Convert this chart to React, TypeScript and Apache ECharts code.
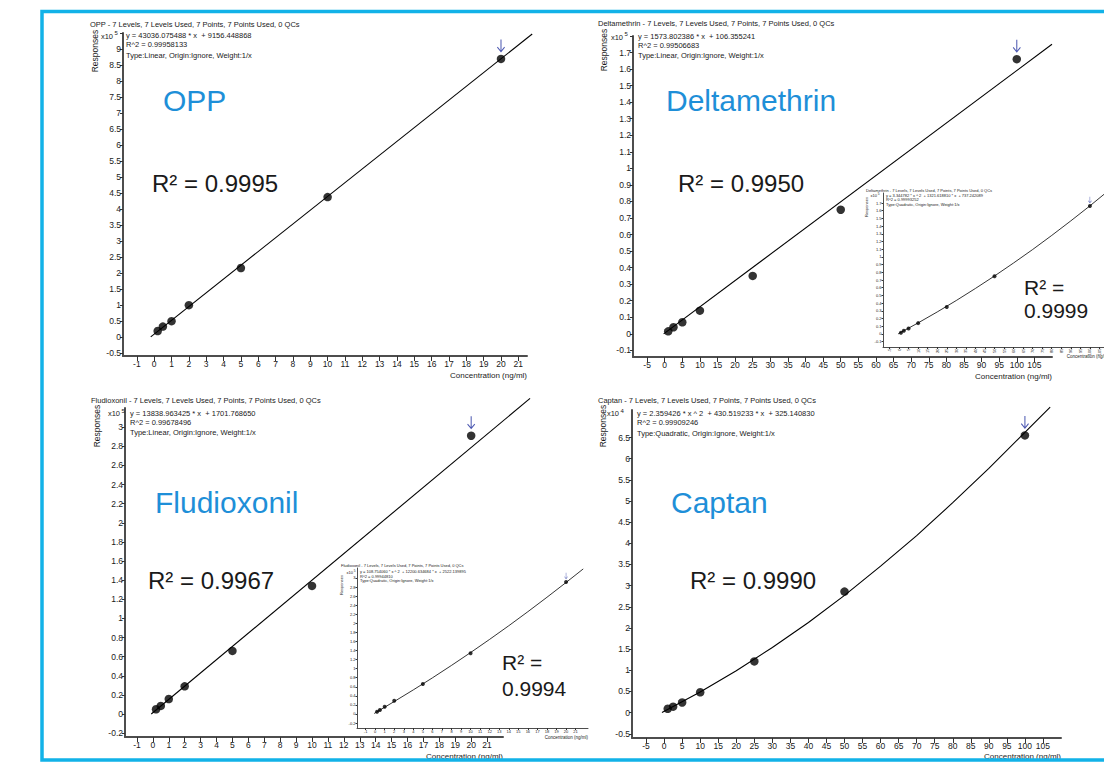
import React, { useEffect, useRef } from "react";
import * as echarts from "echarts";

// ---------------- DATA ----------------
// OPP (responses x10^5)
const OPP_CONC = [0.2, 0.5, 1, 2, 5, 10, 20];
const OPP_RESP = [0.18, 0.32, 0.49, 0.99, 2.15, 4.37, 8.69];
const OPP_FIT_X = [-0.2, 21.8];
const OPP_FIT_Y = [0.0, 9.47];

// Deltamethrin (responses x10^5)
const DELTA_CONC = [1, 2.5, 5, 10, 25, 50, 100];
const DELTA_RESP = [0.015, 0.04, 0.07, 0.14, 0.35, 0.75, 1.66];
const DELTA_FIT_X = [-0.3, 110];
const DELTA_FIT_Y = [0.0, 1.75];
const DELTA_QFIT_X = [-0.5, 10, 20, 30, 40, 50, 60, 70, 80, 90, 100, 110];
const DELTA_QFIT_Y = [0.0, 0.143, 0.285, 0.434, 0.59, 0.752, 0.921, 1.096, 1.279, 1.468, 1.663, 1.866];

// Fludioxonil (responses x10^5)
const FLU_CONC = [0.2, 0.5, 1, 2, 5, 10, 20];
const FLU_RESP = [0.05, 0.085, 0.157, 0.29, 0.66, 1.34, 2.91];
const FLU_FIT_X = [-0.1, 23.7];
const FLU_FIT_Y = [0.0, 3.3];
const FLU_QFIT_X = [-0.1, 2, 4, 6, 8, 10, 12, 14, 16, 18, 20, 21.8];
const FLU_QFIT_Y = [0.01, 0.274, 0.531, 0.796, 1.071, 1.354, 1.646, 1.946, 2.256, 2.574, 2.9, 3.2];

// Captan (responses x10^4)
const CAP_CONC = [1, 2.5, 5, 10, 25, 50, 100];
const CAP_RESP = [0.09, 0.14, 0.24, 0.48, 1.21, 2.86, 6.55];
const CAP_QFIT_X = [-0.6, 10, 20, 30, 40, 50, 60, 70, 80, 90, 100, 107];
const CAP_QFIT_Y = [0.0, 0.487, 0.99, 1.54, 2.13, 2.77, 3.46, 4.18, 4.96, 5.77, 6.62, 7.22];

// Tick values
const X21_TICKS = [-1, 0, 1, 2, 3, 4, 5, 6, 7, 8, 9, 10, 11, 12, 13, 14, 15, 16, 17, 18, 19, 20, 21];
const X105_TICKS = [-5, 0, 5, 10, 15, 20, 25, 30, 35, 40, 45, 50, 55, 60, 65, 70, 75, 80, 85, 90, 95, 100, 105];
const OPP_Y_TICKS = [-0.5, 0, 0.5, 1, 1.5, 2, 2.5, 3, 3.5, 4, 4.5, 5, 5.5, 6, 6.5, 7, 7.5, 8, 8.5, 9];
const OPP_Y_MARKS = [-0.5, 0, 0.5, 1, 1.5, 2, 2.5, 3, 3.5, 4, 4.5, 5, 5.5, 6, 6.5, 7, 7.5, 8, 8.5, 9, 9.5];
const DELTA_Y_TICKS = [-0.1, 0, 0.1, 0.2, 0.3, 0.4, 0.5, 0.6, 0.7, 0.8, 0.9, 1, 1.1, 1.2, 1.3, 1.4, 1.5, 1.6, 1.7];
const DELTA_Y_MARKS = [-0.1, 0, 0.1, 0.2, 0.3, 0.4, 0.5, 0.6, 0.7, 0.8, 0.9, 1, 1.1, 1.2, 1.3, 1.4, 1.5, 1.6, 1.7, 1.8];
const FLU_Y_TICKS = [-0.2, 0, 0.2, 0.4, 0.6, 0.8, 1, 1.2, 1.4, 1.6, 1.8, 2, 2.2, 2.4, 2.6, 2.8, 3];
const CAP_Y_TICKS = [-0.5, 0, 0.5, 1, 1.5, 2, 2.5, 3, 3.5, 4, 4.5, 5, 5.5, 6, 6.5];

// ---------------- STYLE / LAYOUT ----------------
const FONT = '"Liberation Sans", Arial, Helvetica, sans-serif';
const BLUE_TITLE = "#1E8FD8";
const BORDER = "#12B2E8";
const ARROW_COLOR = "#1F2E9E";
const ARROW = "path://M4.4,0 L5.6,0 L5.6,12.5 L8.8,8.6 L9.7,9.4 L5,15 L0.3,9.4 L1.2,8.6 L4.4,12.5 Z";

// The drawing surface is wider than the 1104px window so the right-hand inset can run past the edge, as in the reference.
const SURFACE_W = 1240;
const SURFACE_H = 762;

// panel layouts: grid box + axis ranges
const PANELS = [
  { g: { left: 123, top: 33, width: 404, height: 323 }, x: [-1.8, 21.5], y: [-0.6, 9.5] },
  { g: { left: 633, top: 36, width: 419, height: 321 }, x: [-9, 110], y: [-0.14, 1.8] },
  { g: { left: 125, top: 408, width: 378, height: 329 }, x: [-1.75, 22], y: [-0.24, 3.2] },
  { g: { left: 632, top: 410, width: 429, height: 328 }, x: [-8.9, 110], y: [-0.6, 7.15] },
  { g: { left: 883, top: 193, width: 226, height: 154 }, x: [-8.4, 110], y: [-0.17, 1.83] },
  { g: { left: 357, top: 568, width: 231, height: 160 }, x: [-1.9, 22.3], y: [-0.31, 3.22] },
];

// enlarged invisible frame with identical scale, used by the fit curves so they may run past the axes
const EXT_R = 40;
const EXT_T = 30;
function extended(p: any) {
  const ux = (p.x[1] - p.x[0]) / p.g.width;
  const uy = (p.y[1] - p.y[0]) / p.g.height;
  return {
    g: { left: p.g.left, top: p.g.top - EXT_T, width: p.g.width + EXT_R, height: p.g.height + EXT_T },
    x: [p.x[0], p.x[1] + EXT_R * ux],
    y: [p.y[0], p.y[1] + EXT_T * uy],
  };
}
const EXT = PANELS.map(extended);

const zip = (xs: number[], ys: number[]) => xs.map((x, i) => [x, ys[i]]);
const last = (xs: number[], ys: number[]) => [[xs[xs.length - 1], ys[ys.length - 1]]];

function txt(text: string, x: number, y: number, size: number, o: any = {}) {
  return {
    type: "text",
    x,
    y,
    rotation: o.rotation || 0,
    z: 100,
    silent: true,
    style: {
      text,
      fontSize: size,
      fontFamily: FONT,
      fill: o.color || "#1a1a1a",
      align: o.align || "left",
      verticalAlign: "middle",
      textAlign: o.align || "left",
      textVerticalAlign: "middle",
    },
  };
}

function xAx(gi: number, range: number[], ticks: number[], o: any) {
  return {
    type: "value",
    gridIndex: gi,
    min: range[0],
    max: range[1],
    axisLine: { show: true, onZero: false, lineStyle: { color: "#4d4d4d", width: o.small ? 1 : 2 } },
    axisTick: { show: true, inside: false, length: o.small ? 2 : 5, customValues: ticks, lineStyle: { color: "#333", width: 1 } },
    axisLabel: { show: true, customValues: ticks, fontSize: o.fs, margin: o.margin, color: "#1a1a1a", fontFamily: FONT, rotate: o.rotate || 0 },
    splitLine: { show: false },
  };
}

function yAx(gi: number, range: number[], labels: number[], marks: number[], o: any) {
  return {
    type: "value",
    gridIndex: gi,
    min: range[0],
    max: range[1],
    axisLine: { show: true, onZero: false, lineStyle: { color: "#4d4d4d", width: o.small ? 1 : 2 } },
    axisTick: { show: true, inside: false, length: o.small ? 1.5 : 3, customValues: marks, lineStyle: { color: "#333", width: 1 } },
    axisLabel: { show: true, customValues: labels, fontSize: o.fs, margin: o.margin, color: "#1a1a1a", fontFamily: FONT },
    splitLine: { show: false },
  };
}

function hiddenAx(gi: number, range: number[]) {
  return {
    type: "value",
    gridIndex: gi,
    min: range[0],
    max: range[1],
    show: false,
    axisLine: { show: false, onZero: false },
    axisTick: { show: false },
    axisLabel: { show: false },
    splitLine: { show: false },
  };
}

function panelSeries(i: number, fitX: number[], fitY: number[], conc: number[], resp: number[], small: boolean) {
  return [
    {
      type: "line",
      xAxisIndex: i + 6,
      yAxisIndex: i + 6,
      data: zip(fitX, fitY),
      symbol: "none",
      showSymbol: false,
      smooth: false,
      lineStyle: { color: "#000", width: small ? 0.8 : 1.1 },
      silent: true,
      z: 1,
    },
    {
      type: "scatter",
      xAxisIndex: i,
      yAxisIndex: i,
      data: zip(conc, resp),
      symbol: "circle",
      symbolSize: small ? 4 : 8.5,
      itemStyle: { color: "#000" },
      silent: true,
      z: 3,
    },
    {
      type: "scatter",
      xAxisIndex: i,
      yAxisIndex: i,
      data: last(conc, resp),
      symbol: ARROW,
      symbolSize: small ? [3.5, 6.5] : [8, 13],
      symbolOffset: small ? [0, -6] : [0, -13],
      itemStyle: { color: ARROW_COLOR },
      silent: true,
      z: 3,
    },
  ];
}

const MAIN = { fs: 8.5, margin: 3 };
const MAINY = { fs: 8.5, margin: 2 };
const SMALL = { fs: 4, margin: 1.5, small: true };

const option: any = {
  animation: false,
  backgroundColor: "#fff",
  grid: [...PANELS.map((p) => p.g), ...EXT.map((p) => p.g)],
  xAxis: [
    xAx(0, PANELS[0].x, X21_TICKS, MAIN),
    xAx(1, PANELS[1].x, X105_TICKS, MAIN),
    xAx(2, PANELS[2].x, X21_TICKS, MAIN),
    xAx(3, PANELS[3].x, X105_TICKS, MAIN),
    xAx(4, PANELS[4].x, X105_TICKS, { ...SMALL, rotate: 90 }),
    xAx(5, PANELS[5].x, X21_TICKS, SMALL),
    ...EXT.map((p, k) => hiddenAx(6 + k, p.x)),
  ],
  yAxis: [
    yAx(0, PANELS[0].y, OPP_Y_TICKS, OPP_Y_MARKS, MAINY),
    yAx(1, PANELS[1].y, DELTA_Y_TICKS, DELTA_Y_MARKS, MAINY),
    yAx(2, PANELS[2].y, FLU_Y_TICKS, FLU_Y_TICKS, MAINY),
    yAx(3, PANELS[3].y, CAP_Y_TICKS, CAP_Y_TICKS, MAINY),
    yAx(4, PANELS[4].y, DELTA_Y_TICKS, DELTA_Y_TICKS, SMALL),
    yAx(5, PANELS[5].y, FLU_Y_TICKS, FLU_Y_TICKS, SMALL),
    ...EXT.map((p, k) => hiddenAx(6 + k, p.y)),
  ],
  series: [
    ...panelSeries(0, OPP_FIT_X, OPP_FIT_Y, OPP_CONC, OPP_RESP, false),
    ...panelSeries(1, DELTA_FIT_X, DELTA_FIT_Y, DELTA_CONC, DELTA_RESP, false),
    ...panelSeries(2, FLU_FIT_X, FLU_FIT_Y, FLU_CONC, FLU_RESP, false),
    ...panelSeries(3, CAP_QFIT_X, CAP_QFIT_Y, CAP_CONC, CAP_RESP, false),
    ...panelSeries(4, DELTA_QFIT_X, DELTA_QFIT_Y, DELTA_CONC, DELTA_RESP, true),
    ...panelSeries(5, FLU_QFIT_X, FLU_QFIT_Y, FLU_CONC, FLU_RESP, true),
  ],
  graphic: [
    {
      type: "rect",
      silent: true,
      z: 200,
      shape: { x: 42, y: 11.5, width: 1100, height: 748.5 },
      style: { fill: "none", stroke: BORDER, lineWidth: 3.5 },
    },
    // Panel 1 - OPP
    txt("OPP - 7 Levels, 7 Levels Used, 7 Points, 7 Points Used, 0 QCs", 90, 24.5, 7.5),
    txt("x10", 113, 36, 7.5, { align: "right" }),
    txt("5", 114.5, 33, 6),
    txt("y = 43036.075488 * x  + 9156.448868", 126, 35.5, 7.5),
    txt("R^2 = 0.99958133", 126, 44.5, 7.5),
    txt("Type:Linear, Origin:Ignore, Weight:1/x", 126, 55, 7.5),
    txt("Responses", 95, 51, 8.5, { rotation: Math.PI / 2, align: "center" }),
    txt("Concentration (ng/ml)", 527, 375, 8, { align: "right" }),
    txt("OPP", 163, 100, 30, { color: BLUE_TITLE }),
    txt("R² = 0.9995", 152, 183, 24),
    // Panel 2 - Deltamethrin
    txt("Deltamethrin - 7 Levels, 7 Levels Used, 7 Points, 7 Points Used, 0 QCs", 598, 23, 7.5),
    txt("x10", 623, 37, 7.5, { align: "right" }),
    txt("5", 624.5, 34, 6),
    txt("y = 1573.802386 * x  + 106.355241", 638, 36.5, 7.5),
    txt("R^2 = 0.99506683", 638, 45.5, 7.5),
    txt("Type:Linear, Origin:Ignore, Weight:1/x", 638, 55, 7.5),
    txt("Responses", 604, 50, 8.5, { rotation: Math.PI / 2, align: "center" }),
    txt("Concentration (ng/ml)", 1052, 376, 8, { align: "right" }),
    txt("Deltamethrin", 666, 100, 30, { color: BLUE_TITLE }),
    txt("R² = 0.9950", 678, 183, 24),
    // Panel 3 - Fludioxonil
    txt("Fludioxonil - 7 Levels, 7 Levels Used, 7 Points, 7 Points Used, 0 QCs", 91, 400.5, 7.5),
    txt("x10", 120, 413.5, 7.5, { align: "right" }),
    txt("5", 121.5, 410.5, 6),
    txt("y = 13838.963425 * x  + 1701.768650", 130, 413, 7.5),
    txt("R^2 = 0.99678496", 130, 422, 7.5),
    txt("Type:Linear, Origin:Ignore, Weight:1/x", 130, 432, 7.5),
    txt("Responses", 97, 426, 8.5, { rotation: Math.PI / 2, align: "center" }),
    txt("Concentration (ng/ml)", 503, 756, 8, { align: "right" }),
    txt("Fludioxonil", 155, 502, 30, { color: BLUE_TITLE }),
    txt("R² = 0.9967", 148, 580, 24),
    // Panel 4 - Captan
    txt("Captan - 7 Levels, 7 Levels Used, 7 Points, 7 Points Used, 0 QCs", 598, 400.5, 7.5),
    txt("x10", 619, 413.5, 7.5, { align: "right" }),
    txt("4", 620.5, 410.5, 6),
    txt("y = 2.359426 * x ^ 2  + 430.519233 * x  + 325.140830", 637, 413, 7.5),
    txt("R^2 = 0.99909246", 637, 422, 7.5),
    txt("Type:Quadratic, Origin:Ignore, Weight:1/x", 637, 433, 7.5),
    txt("Responses", 603, 426, 8.5, { rotation: Math.PI / 2, align: "center" }),
    txt("Concentration (ng/ml)", 1061, 756, 8, { align: "right" }),
    txt("Captan", 671, 502, 30, { color: BLUE_TITLE }),
    txt("R² = 0.9990", 690, 580, 24),
    // Inset - Deltamethrin quadratic
    txt("Deltamethrin - 7 Levels, 7 Levels Used, 7 Points, 7 Points Used, 0 QCs", 866, 190, 4),
    txt("x10", 877, 195.5, 4, { align: "right" }),
    txt("5", 877.8, 194, 3.2),
    txt("y = 3.344782 * x ^ 2  + 1321.618810 * x  + 737.242089", 886, 195.5, 4),
    txt("R^2 = 0.99993252", 886, 199.7, 4),
    txt("Type:Quadratic, Origin:Ignore, Weight:1/x", 886, 204, 4),
    txt("Responses", 866.5, 207, 4, { rotation: Math.PI / 2, align: "center" }),
    txt("Concentration (ng/ml)", 1110, 356.5, 4.5, { align: "right" }),
    txt("R² =", 1024, 287, 21),
    txt("0.9999", 1024, 310, 21),
    // Inset - Fludioxonil quadratic
    txt("Fludioxonil - 7 Levels, 7 Levels Used, 7 Points, 7 Points Used, 0 QCs", 341, 565, 4),
    txt("x10", 353, 572, 4, { align: "right" }),
    txt("5", 353.8, 570.5, 3.2),
    txt("y = 108.754060 * x ^ 2  + 12200.634684 * x  + 2522.139895", 360, 571.5, 4),
    txt("R^2 = 0.99944810", 360, 576, 4),
    txt("Type:Quadratic, Origin:Ignore, Weight:1/x", 360, 580.5, 4),
    txt("Responses", 341.5, 585, 4, { rotation: Math.PI / 2, align: "center" }),
    txt("Concentration (ng/ml)", 588, 737, 4.5, { align: "right" }),
    txt("R² =", 502, 662, 21),
    txt("0.9994", 502, 688, 21),
  ],
};

export default function App() {
  const ref = useRef<HTMLDivElement>(null);
  useEffect(() => {
    if (!ref.current) return;
    const chart = echarts.init(ref.current, null, { renderer: "svg" });
    chart.setOption(option);
    return () => chart.dispose();
  }, []);
  return (
    <div
      style={{ position: "fixed", left: 0, top: 0, width: 1104, height: 762, overflow: "hidden", background: "#fff" }}
    >
      <div ref={ref} style={{ position: "absolute", left: 0, top: 0, width: SURFACE_W, height: SURFACE_H }} />
    </div>
  );
}
